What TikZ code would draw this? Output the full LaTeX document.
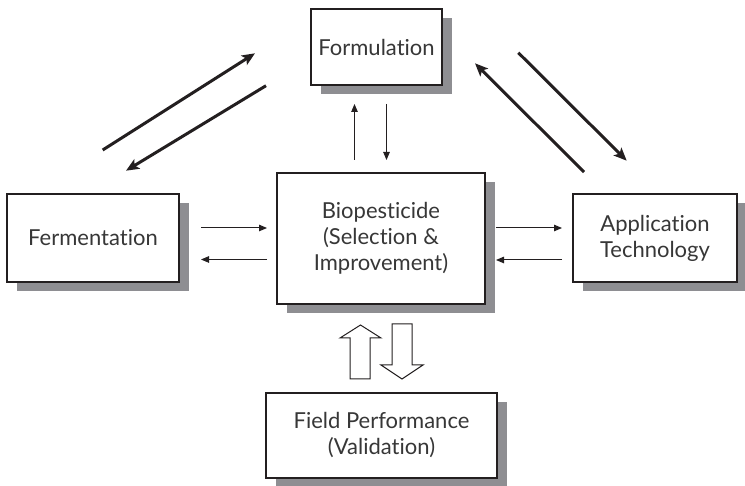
\documentclass[tikz,border=0pt]{standalone}
\usepackage{fontspec}
\setmainfont{Lato}[Ligatures={NoCommon,NoRare}]
\usetikzlibrary{arrows.meta,shadows}
\definecolor{shade}{RGB}{142,142,146}
\definecolor{ink}{RGB}{35,31,32}
\definecolor{txt}{RGB}{55,55,55}
\tikzset{
  box/.style={draw=ink, line width=1.3pt, fill=white, align=center, text=txt,
    font=\fontsize{22}{26}\selectfont, inner sep=0pt,
    drop shadow={shadow xshift=9.5pt, shadow yshift=-9pt, fill=shade, opacity=1}},
  thinarrow/.style={draw=ink, line width=1pt, -{Triangle[length=8pt,width=6.5pt]}},
  boldarrow/.style={draw=ink, line width=3pt, -{Stealth[length=13pt,width=11pt,inset=3pt]}},
  blockarrow/.style={draw=ink, line width=1pt, fill=white, line join=miter},
}
\begin{document}
\begin{tikzpicture}[x=1pt,y=-1pt]
\useasboundingbox (0,0) rectangle (745,486);

% boxes
\node[box, minimum width=131pt, minimum height=76pt]  (form) at (376.5,47)  {Formulation};
\node[box, minimum width=172pt, minimum height=88pt]  (ferm) at (93,238)    {Fermentation};
\node[box, minimum width=208pt, minimum height=131pt] (bio)  at (381,238.5) {Biopesticide\\(Selection \&\\Improvement)};
\node[box, minimum width=164pt, minimum height=88pt]  (app)  at (655,238)   {Application\\Technology};
\node[box, minimum width=231pt, minimum height=85pt]  (field) at (381.5,435.5) {Field Performance\\(Validation)};

% connector end points
\coordinate (fb1) at (201,228);   \coordinate (fb2) at (267,228);
\coordinate (bf1) at (267,259.5); \coordinate (bf2) at (201,259.5);
\coordinate (ba1) at (496,228);   \coordinate (ba2) at (562,228);
\coordinate (ab1) at (562,260);   \coordinate (ab2) at (496,260);
\coordinate (bu1) at (354.5,160); \coordinate (bu2) at (354.5,104);
\coordinate (bd1) at (386.5,104); \coordinate (bd2) at (386.5,160);

\coordinate (d1a) at (102.7,150); \coordinate (d1b) at (255,53.3);
\coordinate (d2a) at (266,85.7);  \coordinate (d2b) at (126,170.7);
\coordinate (d3a) at (584,172);   \coordinate (d3b) at (475,63.3);
\coordinate (d4a) at (518.3,52.7);\coordinate (d4b) at (626.7,160.7);

% thin arrows
\draw[thinarrow] (fb1) -- (fb2);
\draw[thinarrow] (bf1) -- (bf2);
\draw[thinarrow] (ba1) -- (ba2);
\draw[thinarrow] (ab1) -- (ab2);
\draw[thinarrow] (bu1) -- (bu2);
\draw[thinarrow] (bd1) -- (bd2);

% bold diagonal arrows
\draw[boldarrow] (d1a) -- (d1b);
\draw[boldarrow] (d2a) -- (d2b);
\draw[boldarrow] (d3a) -- (d3b);
\draw[boldarrow] (d4a) -- (d4b);

% block arrows
\draw[blockarrow] (350,379) -- (350,338) -- (340,338) -- (360.5,325) -- (381,338) -- (370,338) -- (370,379) -- cycle;
\draw[blockarrow] (392,324) -- (412,324) -- (412,365) -- (423,365) -- (402,379) -- (381,365) -- (392,365) -- cycle;
\end{tikzpicture}
\end{document}
